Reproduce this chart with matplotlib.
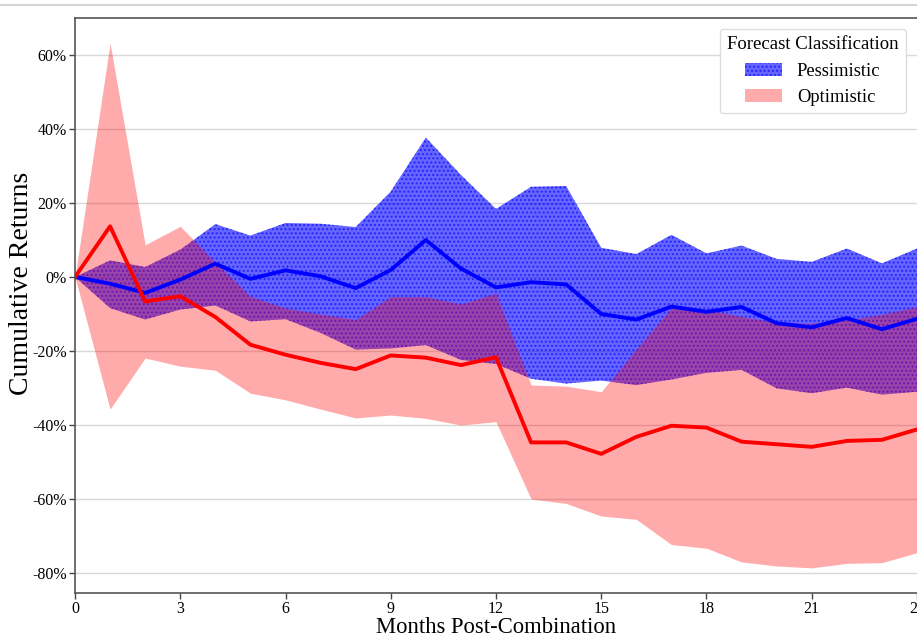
import matplotlib
matplotlib.use("Agg")
import matplotlib.pyplot as plt
from matplotlib.lines import Line2D
from matplotlib.ticker import FuncFormatter

months = list(range(25))

pess_median = [0, -1.8, -4.3, -0.7, 3.6, -0.5, 1.8, 0.2, -3.0, 1.9, 10.0, 2.3, -2.8,
               -1.4, -2.0, -10.0, -11.5, -8.0, -9.4, -8.1, -12.5, -13.6, -11.1, -14.1, -11.3]
pess_upper = [0, 4.5, 2.7, 7.4, 14.3, 11.2, 14.6, 14.4, 13.5, 23.1, 37.7, 27.6, 18.4,
              24.4, 24.6, 7.9, 6.2, 11.4, 6.4, 8.5, 4.9, 4.1, 7.7, 3.7, 7.7]
pess_lower = [0, -8.4, -11.5, -8.8, -7.7, -12.0, -11.4, -15.1, -19.6, -19.3, -18.4, -22.4, -23.5,
              -27.5, -28.8, -28.0, -29.2, -27.7, -25.9, -25.1, -30.1, -31.4, -29.9, -31.8, -31.0]

opt_median = [0, 13.7, -6.6, -5.2, -10.8, -18.3, -21.0, -23.2, -24.9, -21.2, -21.8, -23.8, -21.7,
              -44.7, -44.7, -47.8, -43.2, -40.2, -40.7, -44.5, -45.2, -45.9, -44.3, -44.0, -41.2]
opt_upper = [0, 63.2, 8.7, 13.7, 4.0, -5.2, -8.4, -10.0, -11.5, -5.3, -5.3, -7.3, -4.4,
             -29.2, -29.5, -31.0, -19.5, -8.3, -8.7, -10.7, -12.3, -12.5, -11.6, -10.1, -8.0]
opt_lower = [0, -35.7, -21.9, -24.1, -25.2, -31.4, -33.2, -35.7, -38.1, -37.3, -38.2, -40.0, -39.1,
             -60.0, -61.2, -64.6, -65.5, -72.3, -73.3, -77.0, -78.1, -78.6, -77.4, -77.2, -74.5]

x_ticks = [0, 3, 6, 9, 12, 15, 18, 21, 24]
y_ticks = [-80, -60, -40, -20, 0, 20, 40, 60]

plt.rcParams['font.family'] = ['Liberation Serif', 'DejaVu Serif']
plt.rcParams['hatch.linewidth'] = 1.0

fig = plt.figure(figsize=(9.17, 6.37), dpi=100)
ax = fig.add_axes([75/917, 1 - 593/637, 1 - 75/917, (593 - 18)/637])

ax.fill_between(months, pess_lower, pess_upper, color='blue', alpha=0.6, hatch='....',
                linewidth=0, label='Pessimistic', zorder=2)
ax.fill_between(months, opt_lower, opt_upper, color='red', alpha=0.33,
                linewidth=0, label='Optimistic', zorder=3)
ax.plot(months, pess_median, color='blue', lw=2.8, zorder=4)
ax.plot(months, opt_median, color='red', lw=2.8, zorder=5)

ax.set_xlim(0, 24)
ax.set_ylim(-85.4, 70)
ax.set_xticks(x_ticks)
ax.set_yticks(y_ticks)
ax.yaxis.set_major_formatter(FuncFormatter(lambda v, p: f"{int(round(v))}%"))
ax.grid(axis='y', color='#d8d8d8', lw=1.0)
ax.set_axisbelow(True)
ax.tick_params(labelsize=11.5, length=4, width=1, color='#444444', pad=2)
for s in ['left', 'bottom', 'top']:
    ax.spines[s].set_color('#555555')
    ax.spines[s].set_linewidth(1.2)
ax.spines['right'].set_visible(False)

ax.set_xlabel('Months Post-Combination', fontsize=16.3, labelpad=0)
ax.set_ylabel('Cumulative Returns', fontsize=20, va='center')
ax.yaxis.set_label_coords((22 - 75) / 842, (593 - 283) / 575)

leg = ax.legend(title='Forecast Classification', loc='upper right', fontsize=13.3,
                title_fontsize=13.5, frameon=True, fancybox=True, framealpha=1,
                edgecolor='#dddddd', borderaxespad=0.6)

fig.add_artist(Line2D([0, 1], [1 - 5/637, 1 - 5/637], transform=fig.transFigure,
                      color='#d4d4d4', lw=1.5))

fig.savefig('out.png', dpi=100)
